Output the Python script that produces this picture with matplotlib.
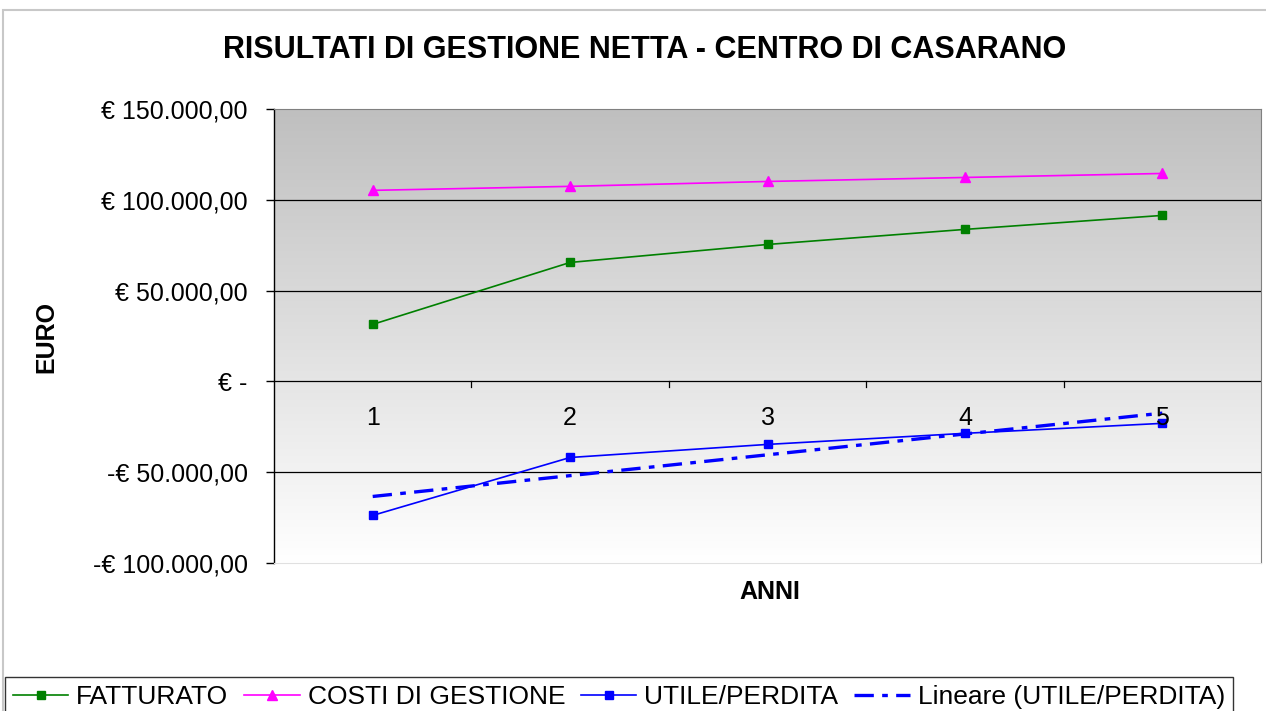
import numpy as np
import matplotlib.pyplot as plt
from matplotlib.patches import Rectangle
from matplotlib.colors import LinearSegmentedColormap

plt.rcParams['font.family'] = ['Liberation Sans', 'DejaVu Sans']

# DATA
anni = [1, 2, 3, 4, 5]
fatturato = [31400, 65500, 75400, 83700, 91400]
costi = [105200, 107400, 110100, 112300, 114500]
utile = [f - c for f, c in zip(fatturato, costi)]
y_ticks = [-100000, -50000, 0, 50000, 100000, 150000]
y_labels = ['-€ 100.000,00', '-€ 50.000,00', '€ -', '€ 50.000,00', '€ 100.000,00', '€ 150.000,00']

# linear trend on utile
coef = np.polyfit(anni, utile, 1)
trend = np.polyval(coef, anni)

W, H = 1266, 711
fig = plt.figure(figsize=(W / 100, H / 100), dpi=100)
fig.patch.set_facecolor('white')

# chart area frame
fig.add_artist(Rectangle((3 / W, -0.01), 1.0, 1 - 10 / H + 0.01, transform=fig.transFigure,
                         fill=False, edgecolor='#c8c8c8', linewidth=1.5))

ax = fig.add_axes([274 / W, (H - 563) / H, 987 / W, 454 / H])
ax.set_xlim(0.5, 5.5)
ax.set_ylim(-100000, 150000)

# gradient background (gray at top -> white at bottom)
grad = np.linspace(0, 1, 256).reshape(-1, 1)
ax.imshow(grad, extent=(0.5, 5.5, -100000, 150000), aspect='auto', origin='upper',
          cmap=LinearSegmentedColormap.from_list('g', ['#bfbfbf', '#ffffff']), zorder=0)

for y in y_ticks[1:-1]:
    ax.axhline(y, color='black', linewidth=0.9, zorder=1)

ax.plot(anni, fatturato, color='#008000', marker='s', markersize=6, linewidth=1.2, zorder=3, label='FATTURATO')
ax.plot(anni, costi, color='#ff00ff', marker='^', markersize=7, linewidth=1.2, zorder=3, label='COSTI DI GESTIONE')
ax.plot(anni, utile, color='#0000ff', marker='s', markersize=6, linewidth=1.2, zorder=3, label='UTILE/PERDITA')
ax.plot(anni, trend, color='#0000ff', linewidth=2.4, linestyle=(0, (5.8, 2.5, 1.7, 2.5)), zorder=4,
        label='Lineare (UTILE/PERDITA)')

ax.set_yticks(y_ticks)
ax.set_yticklabels(y_labels, fontsize=18)
ax.tick_params(axis='y', length=6, width=1, pad=13)
ax.set_xticks([])

# category labels under the zero line, small ticks at category boundaries
for a in anni:
    ax.text(a, -20000, str(a), ha='center', va='center', fontsize=18, zorder=5)
for b in [1.5, 2.5, 3.5, 4.5]:
    ax.plot([b, b], [0, -3300], color='black', linewidth=0.9, zorder=2)

ax.spines['top'].set_color('#808080')
ax.spines['right'].set_color('#808080')
ax.spines['bottom'].set_color('#e0e0e0')
ax.spines['left'].set_linewidth(1)

fig.text(46 / W, 1 - 337 / H, 'EURO', rotation=90, ha='center', va='center', fontsize=18, fontweight='bold')
fig.text(770 / W, 1 - 592 / H, 'ANNI', ha='center', va='center', fontsize=18, fontweight='bold')
fig.text(645 / W, 1 - 50 / H, 'RISULTATI DI GESTIONE NETTA - CENTRO DI CASARANO',
         ha='center', va='center', fontsize=22, fontweight='bold')

handles, labels = ax.get_legend_handles_labels()
leg = fig.legend(handles, labels, loc='upper left', bbox_to_anchor=(5 / W, 1 - 677 / H), ncol=4,
                 fontsize=19, frameon=True, fancybox=False, edgecolor='black', handlelength=2.1,
                 handletextpad=0.3, columnspacing=0.6, borderpad=0.3, borderaxespad=0)
leg.get_frame().set_linewidth(1)

fig.savefig('out.png', dpi=100)
